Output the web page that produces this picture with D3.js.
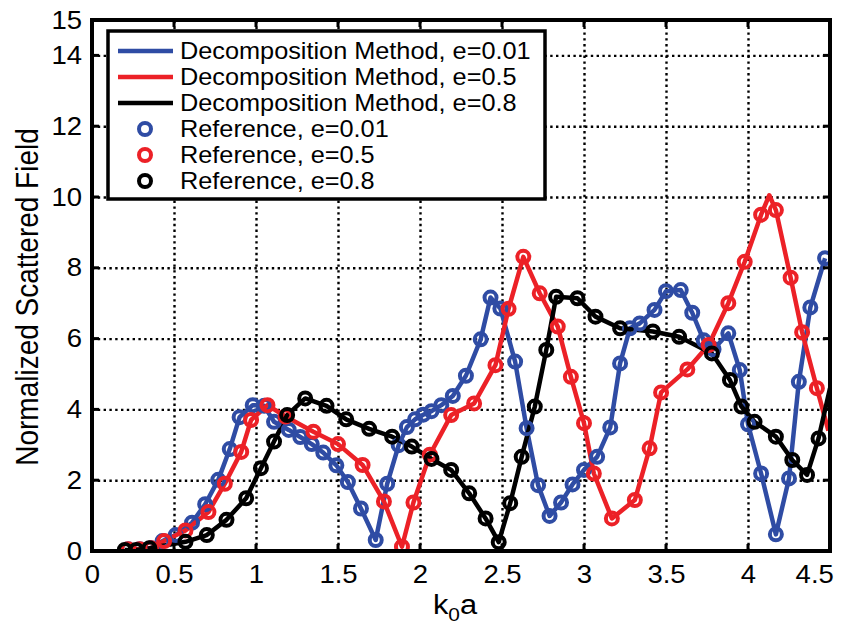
<!DOCTYPE html>
<html>
<head>
<meta charset="utf-8">
<script src="https://cdn.jsdelivr.net/npm/d3@7"></script>
<style>
  body { margin: 0; background: #fff; }
  text { font-family: "Liberation Sans", Arial, Helvetica, sans-serif; fill: #000; }
</style>
</head>
<body>
<svg width="850" height="628"></svg>
<script>
const xTicks = [0, 0.5, 1, 1.5, 2, 2.5, 3, 3.5, 4, 4.5];
const yTicks = [0, 2, 4, 6, 8, 10, 12, 14, 15];

// Reference markers: [k0a, field]
const refBlue = [[0.22,0.05],[0.29,0.05],[0.36,0.08],[0.43,0.28],[0.51,0.45],[0.61,0.80],[0.69,1.32],[0.77,2.01],
  [0.84,2.88],[0.90,3.78],[0.98,4.12],[1.05,4.10],[1.11,3.65],[1.20,3.42],[1.27,3.22],[1.34,3.02],[1.41,2.78],
  [1.49,2.42],[1.56,1.95],[1.64,1.20],[1.73,0.31],[1.80,1.90],[1.87,2.99],[1.92,3.50],[1.97,3.72],[2.02,3.85],
  [2.07,3.95],[2.13,4.12],[2.20,4.38],[2.28,4.95],[2.37,5.98],[2.43,7.16],[2.49,6.85],[2.58,5.35],[2.65,3.47],
  [2.72,1.86],[2.79,0.99],[2.86,1.37],[2.93,1.88],[3.00,2.29],[3.08,2.66],[3.16,3.49],[3.22,5.30],[3.28,6.29],
  [3.34,6.43],[3.43,6.81],[3.50,7.34],[3.59,7.37],[3.66,6.73],[3.73,5.95],[3.79,5.70],[3.88,6.15],[3.95,5.11],
  [4.00,3.58],[4.08,2.19],[4.17,0.47],[4.25,2.05],[4.31,4.78],[4.38,6.88],[4.47,8.27]];
const refRed = [[0.22,0.05],[0.29,0.05],[0.36,0.08],[0.44,0.28],[0.57,0.58],[0.71,1.10],[0.81,1.90],[0.91,2.80],
  [0.97,3.70],[1.07,4.12],[1.18,3.80],[1.35,3.37],[1.50,3.02],[1.65,2.43],[1.78,1.40],[1.89,0.12],[1.96,1.37],
  [2.06,2.72],[2.19,3.84],[2.33,4.17],[2.46,5.25],[2.54,6.84],[2.63,8.31],[2.73,7.28],[2.84,6.34],[2.92,4.92],
  [3.00,3.61],[3.06,2.19],[3.17,0.92],[3.31,1.44],[3.40,2.90],[3.47,4.48],[3.63,5.13],[3.76,5.82],[3.88,7.00],
  [3.98,8.17],[4.08,9.50],[4.17,9.63],[4.26,7.72],[4.33,6.18],[4.42,4.60]];
const refBlack = [[0.20,0.03],[0.27,0.03],[0.35,0.08],[0.57,0.26],[0.70,0.45],[0.82,0.88],[0.94,1.49],[1.03,2.34],
  [1.11,3.09],[1.19,3.84],[1.30,4.31],[1.43,4.10],[1.55,3.72],[1.69,3.45],[1.83,3.23],[1.95,2.95],[2.07,2.60],
  [2.19,2.29],[2.30,1.63],[2.40,0.92],[2.48,0.25],[2.55,1.35],[2.62,2.66],[2.70,4.08],[2.77,5.68],[2.83,7.18],
  [2.96,7.14],[3.07,6.62],[3.22,6.29],[3.42,6.20],[3.58,6.05],[3.78,5.58],[3.89,4.83],[3.96,4.08],[4.04,3.65],
  [4.17,3.23],[4.27,2.57],[4.36,2.15],[4.43,3.18]];

// extra points only the decomposition-method curves pass through
const lineOnlyBlue = [];
const lineOnlyRed = [[4.13, 10.05], [4.49, 3.40]];
const lineOnlyBlack = [[4.50, 4.60]];

const series = [
  { e: "0.01", color: "#2f4ca4", ref: refBlue, extra: lineOnlyBlue },
  { e: "0.5", color: "#ec2127", ref: refRed, extra: lineOnlyRed },
  { e: "0.8", color: "#000000", ref: refBlack, extra: lineOnlyBlack }
];

const svg = d3.select("svg");
const pLeft = 92, pRight = 830, pTop = 20, pBottom = 551;
const stretch = "scale(1.1,1)";

const x = d3.scaleLinear([0, 4.5], [pLeft, pRight]);
const y = d3.scaleLinear([0, 15], [pBottom, pTop]);

// dotted grid
const gridStyle = g => {
  g.select(".domain").remove();
  g.selectAll("line").attr("stroke", "#000").attr("stroke-width", 2.4)
    .attr("stroke-dasharray", "2.4,3.4");
};
svg.append("g")
  .attr("transform", `translate(0,${pBottom})`)
  .call(d3.axisBottom(x).tickValues(xTicks.slice(1, -1)).tickSize(-(pBottom - pTop)).tickFormat(""))
  .call(gridStyle);
svg.append("g")
  .attr("transform", `translate(${pLeft},0)`)
  .call(d3.axisLeft(y).tickValues(yTicks.slice(1, -1)).tickSize(-(pRight - pLeft)).tickFormat(""))
  .call(gridStyle);

// data
svg.append("defs").append("clipPath").attr("id", "plot")
  .append("rect").attr("x", pLeft).attr("y", pTop).attr("width", pRight - pLeft).attr("height", pBottom - pTop);

const line = d3.line().x(d => x(d[0])).y(d => y(d[1]));
const plot = svg.append("g").attr("clip-path", "url(#plot)");

series.forEach(s => {
  const pts = s.ref.concat(s.extra).sort((a, b) => a[0] - b[0]);
  plot.append("path")
    .attr("d", line(pts))
    .attr("fill", "none")
    .attr("stroke", s.color)
    .attr("stroke-width", 4.5)
    .attr("stroke-linejoin", "round");
});
series.forEach(s => {
  plot.append("g").selectAll("circle")
    .data(s.ref)
    .join("circle")
    .attr("cx", d => x(d[0]))
    .attr("cy", d => y(d[1]))
    .attr("r", 6)
    .attr("fill", "none")
    .attr("stroke", s.color)
    .attr("stroke-width", 4);
});

// axes box and inner ticks
svg.append("rect")
  .attr("x", pLeft).attr("y", pTop).attr("width", pRight - pLeft).attr("height", pBottom - pTop)
  .attr("fill", "none").attr("stroke", "#000").attr("stroke-width", 4);

const tickMarks = svg.append("g").attr("stroke", "#000").attr("stroke-width", 3);
xTicks.slice(1, -1).forEach(t => {
  tickMarks.append("line").attr("x1", x(t)).attr("x2", x(t)).attr("y1", pBottom).attr("y2", pBottom - 7);
  tickMarks.append("line").attr("x1", x(t)).attr("x2", x(t)).attr("y1", pTop).attr("y2", pTop + 7);
});
yTicks.slice(1, -1).forEach(t => {
  tickMarks.append("line").attr("y1", y(t)).attr("y2", y(t)).attr("x1", pLeft).attr("x2", pLeft + 7);
  tickMarks.append("line").attr("y1", y(t)).attr("y2", y(t)).attr("x1", pRight).attr("x2", pRight - 7);
});

// tick labels
const xLab = svg.append("g")
  .attr("transform", `translate(0,${pBottom})`)
  .call(d3.axisBottom(x).tickValues(xTicks).tickSize(0).tickPadding(14).tickFormat(d3.format("")));
xLab.select(".domain").remove();
xLab.selectAll("text").attr("font-size", 25).attr("transform", stretch)
  .filter(d => d === 4.5).attr("text-anchor", "end").attr("x", 3);

const yLab = svg.append("g")
  .attr("transform", `translate(${pLeft},0)`)
  .call(d3.axisLeft(y).tickValues(yTicks).tickSize(0).tickPadding(9).tickFormat(d3.format("")));
yLab.select(".domain").remove();
yLab.selectAll("text").attr("font-size", 25).attr("transform", stretch);
svg.selectAll(".tick text").style("font-family", '"Liberation Sans", Arial, sans-serif').attr("fill", "#000");

// axis titles
svg.append("text")
  .attr("transform", `translate(27,297) ${stretch} rotate(-90)`)
  .attr("text-anchor", "middle")
  .attr("dominant-baseline", "central")
  .attr("font-size", 28)
  .text("Normalized Scattered Field");

const xt = svg.append("text")
  .attr("transform", `translate(455,614) ${stretch}`)
  .attr("text-anchor", "middle")
  .attr("font-size", 28);
xt.append("tspan").text("k");
xt.append("tspan").attr("font-size", 19).attr("dy", 7).text("0");
xt.append("tspan").attr("dy", -7).text("a");

// legend
const legend = svg.append("g");
legend.append("rect")
  .attr("x", 108).attr("y", 31).attr("width", 437).attr("height", 168)
  .attr("fill", "#fff").attr("stroke", "#000").attr("stroke-width", 3.5);

const rowY = d3.scalePoint().domain(d3.range(6)).range([51, 181]);
const entries = series.map(s => ({ kind: "line", s, label: `Decomposition Method, e=${s.e}` }))
  .concat(series.map(s => ({ kind: "marker", s, label: `Reference, e=${s.e}` })));

entries.forEach((en, i) => {
  const cy = rowY(i);
  if (en.kind === "line") {
    legend.append("line").attr("x1", 118).attr("x2", 173).attr("y1", cy).attr("y2", cy)
      .attr("stroke", en.s.color).attr("stroke-width", 4.5);
  } else {
    legend.append("circle").attr("cx", 145).attr("cy", cy).attr("r", 6)
      .attr("fill", "none").attr("stroke", en.s.color).attr("stroke-width", 4);
  }
  legend.append("text")
    .attr("transform", `translate(180,${cy}) ${stretch}`)
    .attr("dominant-baseline", "central")
    .attr("font-size", 23)
    .text(en.label);
});
</script>
</body>
</html>
